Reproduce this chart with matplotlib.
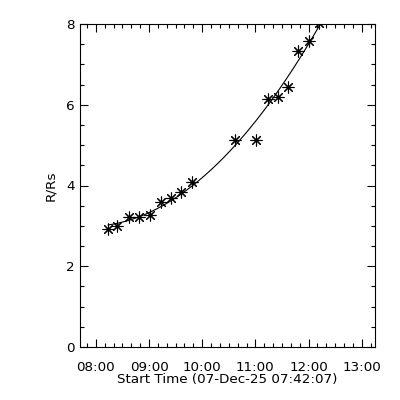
import numpy as np
import matplotlib
matplotlib.use("Agg")
import matplotlib.pyplot as plt
from matplotlib.ticker import MultipleLocator

# Observation times (HH:MM) and heights (R/Rs)
times = ["08:14", "08:24", "08:37", "08:49", "09:01", "09:13", "09:25", "09:36",
         "09:49", "10:37", "11:01", "11:14", "11:25", "11:37", "11:48", "12:00", "12:12"]
heights = [2.93, 2.99, 3.21, 3.23, 3.26, 3.60, 3.70, 3.84,
           4.09, 5.13, 5.13, 6.14, 6.19, 6.44, 7.33, 7.58, 8.02]
xtick_labels = ["08:00", "09:00", "10:00", "11:00", "12:00", "13:00"]
ytick_values = [0, 2, 4, 6, 8]
start_label = "07-Dec-25 07:42:07"

hours = np.array([int(t[:2]) + int(t[3:]) / 60 for t in times])
h = np.array(heights)

plt.rcParams['font.family'] = ['DejaVu Sans']
fig = plt.figure(figsize=(4, 4), dpi=100)
ax = fig.add_axes([0.2, 0.1325, 0.7375, 0.8075])

# quadratic fit to the points
coef = np.polyfit(hours, h, 2)
xf = np.linspace(hours[0], hours[-1] + 0.02, 200)
ax.plot(xf, np.polyval(coef, xf), color='black', lw=0.8)

ax.plot(hours, h, linestyle='none', marker=(8, 2, 0), markersize=8.5,
        markeredgewidth=0.8, color='black', clip_on=True)

ax.set_xlim(7 + 42 / 60 + 7 / 3600, 13.25)
ax.set_ylim(0, 8)
major_x = [int(s[:2]) for s in xtick_labels]
ax.set_xticks(major_x)
ax.set_xticklabels(xtick_labels)
ax.xaxis.set_minor_locator(MultipleLocator(1 / 6))
ax.set_yticks(ytick_values)
ax.set_yticklabels([str(v) for v in ytick_values])
ax.yaxis.set_minor_locator(MultipleLocator(0.5))

ax.tick_params(which='both', direction='in', top=True, right=True,
               labelsize=9.7, width=0.8, colors='black')
ax.tick_params(which='major', length=6)
ax.tick_params(which='minor', length=3)
ax.tick_params(axis='x', which='major', pad=10)
ax.tick_params(axis='y', which='major', pad=4)
for s in ax.spines.values():
    s.set_linewidth(0.8)

ax.set_xlabel(f"Start Time ({start_label})", fontsize=9.7, labelpad=-1)
ax.set_ylabel("R/Rs", fontsize=9.7, labelpad=6)

fig.savefig("out.png", dpi=100)
